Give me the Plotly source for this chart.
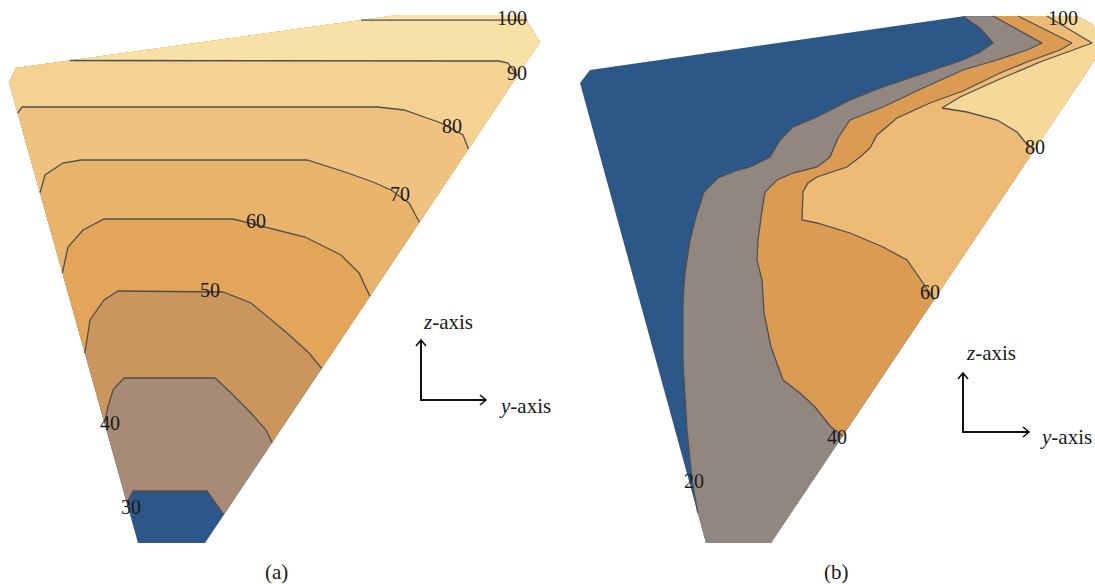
import plotly.graph_objects as go

# ------------------------------------------------------------------
# Panel (a): outline of the section and its isolines (h = right, v = down)
# ------------------------------------------------------------------
a_edge_h = [205, 540, 531, 524, 398, 16, 9, 138]
a_edge_v = [543, 42, 28, 15, 15, 68, 82, 543]

a_levels = [30, 40, 50, 60, 70, 80, 90, 100]
a_iso_h = [
    [127, 133, 207, 224],
    [104, 108, 113, 124, 215, 230, 251, 266, 273],
    [85, 90, 104, 118, 223, 251, 287, 309, 321],
    [62, 68, 83, 104, 233, 266, 305, 341, 359, 368],
    [39, 45, 63, 81, 307, 345, 373, 391, 409, 419],
    [18, 22, 377, 404, 441, 463, 470],
    [70, 499, 508, 512, 516],
    [361, 527],
]
a_iso_v = [
    [503, 491, 491, 515],
    [423, 407, 390, 378, 378, 392, 413, 430, 443],
    [353, 320, 300, 291, 292, 303, 333, 353, 368],
    [273, 247, 230, 219, 219, 227, 237, 255, 273, 295],
    [193, 175, 163, 160, 160, 172, 182, 190, 203, 222],
    [113, 107, 107, 110, 123, 135, 150],
    [61, 61, 63, 69, 75],
    [20, 20],
]
a_fill = ["#2D5788", "#A88B74", "#CB955E", "#E3A55A", "#E8B46B",
          "#EFC37F", "#F4D292", "#F8E1A6", "#F9E3A9"]
a_label_text = ["30", "40", "50", "60", "70", "80", "90", "100"]
a_label_h = [131, 110, 210, 256, 400, 452, 517, 512]
a_label_v = [507, 423, 290, 221, 194, 126, 73, 18]

# ------------------------------------------------------------------
# Panel (b)
# ------------------------------------------------------------------
b_edge_h = [771, 1100, 1103, 1092, 1077, 965, 590, 580, 706]
b_edge_v = [543, 52, 40, 24, 16, 16, 70, 83, 543]

b_levels = [20, 40, 60, 80]
b_iso_h = [
    [963, 980, 993, 980, 963, 933, 883, 850, 817, 793, 780, 770, 750, 738,
     718, 704, 697, 690, 685, 683, 683, 687, 692, 697],
    [993, 1042, 1027, 997, 963, 940, 923, 883, 850, 838, 830, 817, 793, 777,
     765, 762, 758, 757, 762, 764, 771, 783, 800, 815, 831, 843],
    [1018, 1072, 1060, 1027, 1000, 963, 930, 897, 877, 870, 860, 847, 817,
     808, 803, 802, 817, 850, 883, 907, 923, 934],
    [1047, 1092, 1073, 1040, 1000, 960, 942, 967, 997, 1017, 1025, 1035],
]
b_iso_v = [
    [17, 28, 43, 52, 60, 70, 87, 100, 117, 127, 140, 157, 167, 170,
     178, 192, 213, 240, 273, 300, 363, 430, 480, 513],
    [16, 43, 50, 60, 70, 80, 88, 107, 120, 138, 157, 167, 173, 180,
     192, 210, 240, 260, 280, 313, 347, 380, 393, 407, 427, 436],
    [16, 43, 50, 62, 73, 91, 103, 118, 135, 148, 157, 167, 177,
     183, 192, 220, 223, 233, 247, 260, 283, 300],
    [16, 43, 50, 62, 79, 97, 108, 112, 120, 132, 142, 150],
]
b_fill = ["#2D5787", "#928780", "#DB9B52", "#EDBB75", "#F6D898"]
b_label_text = ["20", "40", "60", "80", "100"]
b_label_h = [694, 837, 930, 1035, 1063]
b_label_v = [481, 437, 292, 147, 18]

ISO_COLOR = "#4f4f4f"
SERIF = "Liberation Serif"


def snap(p, poly):
    """Project a point onto the nearest edge of the outline."""
    best = None
    n = len(poly)
    for i in range(n):
        (x0, y0), (x1, y1) = poly[i], poly[(i + 1) % n]
        dx, dy = x1 - x0, y1 - y0
        t = ((p[0] - x0) * dx + (p[1] - y0) * dy) / (dx * dx + dy * dy)
        t = min(1.0, max(0.0, t))
        q = (x0 + t * dx, y0 + t * dy)
        d = (q[0] - p[0]) ** 2 + (q[1] - p[1]) ** 2
        if best is None or d < best[0]:
            best = (d, i, q)
    return best[1], best[2]


def superlevel(line_h, line_v, edge_h, edge_v):
    """Isoline snapped to the outline, and the closed area on its high side."""
    poly = list(zip(edge_h, edge_v))
    pts = list(zip(line_h, line_v))
    i_s, q_s = snap(pts[0], poly)
    i_e, q_e = snap(pts[-1], poly)
    line = [q_s] + pts[1:-1] + [q_e]
    area = list(line)
    k = i_e
    while k != i_s:
        k = (k + 1) % len(poly)
        area.append(poly[k])
    area.append(q_s)
    return line, area


fig = go.Figure()


def add_panel(edge_h, edge_v, iso_h, iso_v, fills):
    fig.add_trace(go.Scatter(
        x=edge_h + [edge_h[0]], y=edge_v + [edge_v[0]], mode="lines",
        fill="toself", fillcolor=fills[0], line=dict(width=0),
        hoverinfo="skip", showlegend=False))
    lines = []
    for k, (lh, lv) in enumerate(zip(iso_h, iso_v)):
        line, area = superlevel(lh, lv, edge_h, edge_v)
        lines.append(line)
        fig.add_trace(go.Scatter(
            x=[p[0] for p in area], y=[p[1] for p in area], mode="lines",
            fill="toself", fillcolor=fills[k + 1], line=dict(width=0),
            hoverinfo="skip", showlegend=False))
    for line in lines:
        fig.add_trace(go.Scatter(
            x=[p[0] for p in line], y=[p[1] for p in line], mode="lines",
            line=dict(color=ISO_COLOR, width=1.3),
            hoverinfo="skip", showlegend=False))


add_panel(a_edge_h, a_edge_v, a_iso_h, a_iso_v, a_fill)
add_panel(b_edge_h, b_edge_v, b_iso_h, b_iso_v, b_fill)

annotations = []
for txt, h, v in list(zip(a_label_text, a_label_h, a_label_v)) + \
        list(zip(b_label_text, b_label_h, b_label_v)):
    annotations.append(dict(x=h, y=v, xref="x", yref="y", text=txt,
                            showarrow=False,
                            font=dict(family=SERIF, size=20, color="#1a1a1a")))

# axis direction glyphs and panel captions
shapes = []
for ox, oy, tip_up, tip_right in [(421, 400, 340, 486), (963, 432, 373, 1029)]:
    shapes.append(dict(type="path", xref="x", yref="y",
                       path=f"M{ox},{tip_up} L{ox},{oy} L{tip_right},{oy}",
                       line=dict(color="#111111", width=2)))
    shapes.append(dict(type="path", xref="x", yref="y",
                       path=f"M{ox-5},{tip_up+6} L{ox},{tip_up} L{ox+5},{tip_up+6}",
                       line=dict(color="#111111", width=1.6)))
    shapes.append(dict(type="path", xref="x", yref="y",
                       path=f"M{tip_right-6},{oy-5} L{tip_right},{oy} L{tip_right-6},{oy+5}",
                       line=dict(color="#111111", width=1.6)))

for txt, h, v in [("<i>z</i>-axis", 448, 322), ("<i>y</i>-axis", 525, 406),
                  ("<i>z</i>-axis", 991, 353), ("<i>y</i>-axis", 1066, 437),
                  ("(a)", 276, 572), ("(b)", 836, 572)]:
    annotations.append(dict(x=h, y=v, xref="x", yref="y", text=txt,
                            showarrow=False,
                            font=dict(family=SERIF, size=21, color="#1a1a1a")))

fig.update_layout(
    width=1095, height=584,
    margin=dict(l=0, r=0, t=0, b=0),
    paper_bgcolor="white", plot_bgcolor="white",
    xaxis=dict(range=[0, 1095], visible=False, fixedrange=True),
    yaxis=dict(range=[584, 0], visible=False, fixedrange=True),
    annotations=annotations, shapes=shapes,
)

fig.write_html("out.html")
